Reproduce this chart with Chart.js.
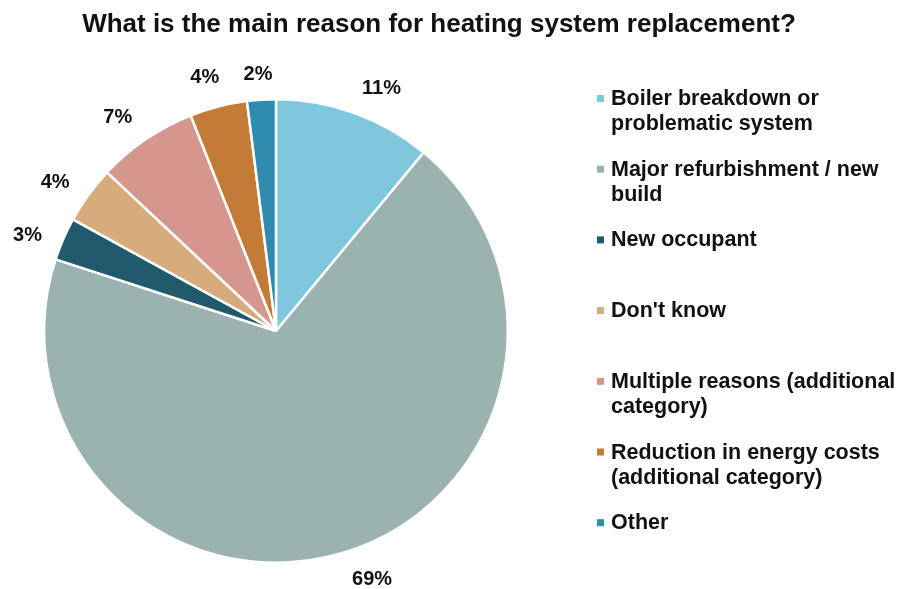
<!DOCTYPE html>
<html>
<head>
<meta charset="utf-8">
<script src="https://cdn.jsdelivr.net/npm/chart.js@4.4.0/dist/chart.umd.min.js"></script>
<style>
  html, body { margin: 0; padding: 0; background: #fff; }
  #wrap { width: 906px; height: 589px; }
</style>
</head>
<body>
<div id="wrap"><canvas id="myChart" width="906" height="589"></canvas></div>
<script>
// survey answers, clockwise from 12 o'clock
var reasons = [
  ['Boiler breakdown or', 'problematic system'],
  ['Major refurbishment / new', 'build'],
  ['New occupant'],
  ["Don't know"],
  ['Multiple reasons (additional', 'category)'],
  ['Reduction in energy costs', '(additional category)'],
  ['Other']
];
var shares = [11, 69, 3, 4, 7, 4, 2];
var colours = ['#7FC7DD', '#9BB3B0', '#215A6D', '#D7AB7B', '#D4968D', '#C47B37', '#2F8CAF'];
var chartTitle = 'What is the main reason for heating system replacement?';

// small tweaks so the percent labels don't crowd each other
var labelTurn = [3.6, -5, -2.1, -1.9, -2.2, -1.2, -0.4];   // degrees off the slice middle
var labelGap = [34, 34, 35, 35, 35, 33, 26];               // px beyond the rim

var FONT = '"Liberation Sans", Arial, sans-serif';
var INK = '#111111';

// title, percent labels round the pie and the legend on the right
var extras = {
  id: 'extras',
  afterDraw: function(chart) {
    var ctx = chart.ctx;
    ctx.save();
    ctx.fillStyle = INK;

    ctx.font = 'bold 26px ' + FONT;
    ctx.textAlign = 'center';
    ctx.textBaseline = 'alphabetic';
    ctx.fillText(chartTitle, 439, 32);

    // percent labels
    ctx.font = 'bold 20px ' + FONT;
    ctx.textBaseline = 'middle';
    var meta = chart.getDatasetMeta(0);
    meta.data.forEach(function(arc, i) {
      var p = arc.getProps(['x', 'y', 'startAngle', 'endAngle', 'outerRadius'], true);
      var mid = (p.startAngle + p.endAngle) / 2 + labelTurn[i] * Math.PI / 180;
      var r = p.outerRadius + labelGap[i];
      ctx.fillText(shares[i] + '%', p.x + Math.cos(mid) * r, p.y + Math.sin(mid) * r + 1);
    });

    // legend
    ctx.textAlign = 'left';
    ctx.textBaseline = 'alphabetic';
    ctx.font = 'bold 21.5px ' + FONT;
    for (var i = 0; i < reasons.length; i++) {
      var base = 105 + i * 70.7;
      ctx.fillStyle = colours[i];
      ctx.fillRect(597, base - 10, 7, 7);
      ctx.fillStyle = INK;
      for (var j = 0; j < reasons[i].length; j++) {
        ctx.fillText(reasons[i][j], 611, base + j * 25);
      }
    }
    ctx.restore();
  }
};

var ctx = document.getElementById('myChart').getContext('2d');
var myChart = new Chart(ctx, {
  type: 'pie',
  data: {
    labels: reasons,
    datasets: [{
      data: shares,
      backgroundColor: colours,
      borderColor: '#ffffff',
      borderWidth: 2.5
    }]
  },
  options: {
    responsive: false,
    animation: false,
    layout: { padding: { left: 43, right: 397, top: 98, bottom: 25 } },
    plugins: {
      legend: { display: false },
      title: { display: false },
      tooltip: { enabled: false }
    }
  },
  plugins: [extras]
});
</script>
</body>
</html>
